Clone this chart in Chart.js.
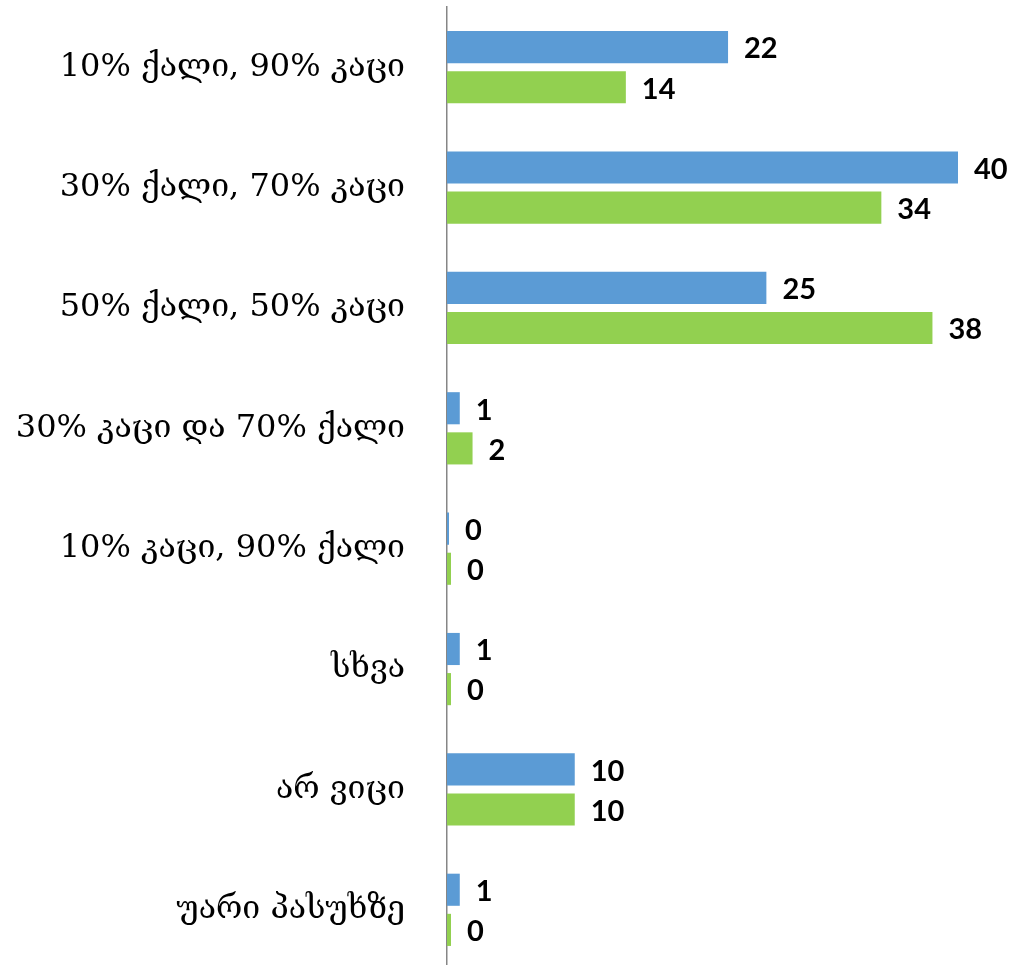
<!DOCTYPE html>
<html>
<head>
  <title>Bar chart</title>
  <script src="https://cdn.jsdelivr.net/npm/chart.js"></script>
  <style>
    html, body { margin: 0; padding: 0; background: #fff; overflow: hidden; }
    #wrap { position: relative; width: 1014px; height: 970px; }
  </style>
</head>
<body>
  <div id="wrap"><canvas id="chart"></canvas></div>
  <script>
    // categories (top to bottom)
    const categories = [
      '10% ქალი, 90% კაცი',
      '30% ქალი, 70% კაცი',
      '50% ქალი, 50% კაცი',
      '30% კაცი და 70% ქალი',
      '10% კაცი, 90% ქალი',
      'სხვა',
      'არ ვიცი',
      'უარი პასუხზე'
    ];
    // two series, blue on top, green below
    const seriesBlue = [22, 40, 25, 1, 0, 1, 10, 1];
    const seriesGreen = [14, 34, 38, 2, 0, 0, 10, 0];

    // write the value next to the end of each bar
    const valueLabels = {
      id: 'valueLabels',
      afterDatasetsDraw(chart) {
        const ctx = chart.ctx;
        ctx.save();
        ctx.font = 'bold 29px Lato, "Liberation Sans", sans-serif';
        ctx.fillStyle = '#000';
        ctx.textAlign = 'left';
        ctx.textBaseline = 'middle';
        chart.data.datasets.forEach((ds, i) => {
          chart.getDatasetMeta(i).data.forEach((bar, j) => {
            ctx.fillText(String(ds.data[j]), bar.x + 16, bar.y + 2);
          });
        });
        ctx.restore();
      }
    };

    new Chart(document.getElementById('chart'), {
      type: 'bar',
      data: {
        labels: categories,
        datasets: [
          {
            label: 'blue',
            data: seriesBlue,
            backgroundColor: '#5B9BD5',
            barPercentage: 0.8,
            categoryPercentage: 0.667,
            minBarLength: 2
          },
          {
            label: 'green',
            data: seriesGreen,
            backgroundColor: '#92D050',
            barPercentage: 0.8,
            categoryPercentage: 0.667,
            minBarLength: 4
          }
        ]
      },
      options: {
        indexAxis: 'y',
        responsive: true,
        maintainAspectRatio: false,
        animation: false,
        layout: { padding: { top: 7, right: 56, bottom: 0, left: 0 } },
        plugins: {
          legend: { display: false },
          tooltip: { enabled: false }
        },
        scales: {
          x: {
            min: 0,
            max: 40,
            display: false,
            grid: { display: false }
          },
          y: {
            grid: { display: false, drawTicks: false },
            border: { display: true, color: '#868686', width: 1.5 },
            ticks: {
              color: '#000',
              padding: 42,
              font: { family: '"DejaVu Serif", serif', size: 32 }
            },
            afterFit(scale) {
              scale.width = 447;
              scale.paddingTop = 0;
              scale.paddingBottom = 0;
            }
          }
        }
      },
      plugins: [valueLabels]
    });
  </script>
</body>
</html>
